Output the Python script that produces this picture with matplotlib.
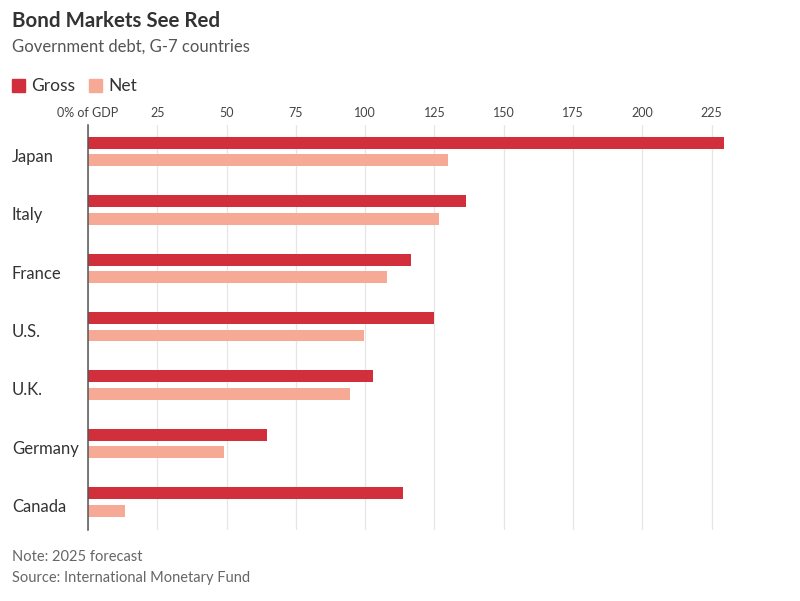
import matplotlib
matplotlib.use("Agg")
import matplotlib.pyplot as plt
from matplotlib.patches import Rectangle
from matplotlib import font_manager

countries = ["Japan", "Italy", "France", "U.S.", "U.K.", "Germany", "Canada"]
gross = [229.5, 136.5, 116.5, 125, 103, 64.5, 113.5]
net = [130, 126.5, 108, 99.5, 94.5, 49, 13.5]
ticks = [0, 25, 50, 75, 100, 125, 150, 175, 200, 225]
tick_labels = ["0% of GDP", "25", "50", "75", "100", "125", "150", "175", "200", "225"]

GROSS_C = "#d12f3c"
NET_C = "#f6a995"

names = {f.name for f in font_manager.fontManager.ttflist}
main_font = ["Lato", "DejaVu Sans"]
narrow = ["Liberation Sans Narrow"] if "Liberation Sans Narrow" in names else ["Lato"]
plt.rcParams['font.family'] = main_font

fig = plt.figure(figsize=(8, 6.01), dpi=100)
W, H = 800, 601
ax_left, ax_right = 88, 767
ax_top, ax_bottom = 125, 530
ax = fig.add_axes([ax_left / W, 1 - ax_bottom / H, (ax_right - ax_left) / W, (ax_bottom - ax_top) / H])

ypos = list(range(len(countries)))
h = 0.205
off = 0.15
ax.barh([y - off for y in ypos], gross, height=h, color=GROSS_C, zorder=3)
ax.barh([y + off for y in ypos], net, height=h, color=NET_C, zorder=3)

ax.set_xlim(0, 245)
ax.set_ylim(6.48, -0.454)
ax.set_xticks(ticks)
ax.set_xticklabels(tick_labels, fontfamily=narrow + ["DejaVu Sans"], fontsize=9, color="#444444")
ax.xaxis.tick_top()
ax.tick_params(axis="x", length=0, pad=4)
ax.set_yticks([])
ax.grid(axis="x", color="#e6e6e6", linewidth=0.9, zorder=0)
for s in ["top", "right", "bottom"]:
    ax.spines[s].set_visible(False)
ax.spines["left"].set_color("#555555")
ax.spines["left"].set_linewidth(1.1)
ax.spines["left"].set_zorder(4)

for y, c in zip(ypos, countries):
    ax.text(-76 / 2.771, y + 0.09, c, ha="left", va="center", fontsize=12, color="#333333")

fig.text(12 / W, 1 - 21 / H, "Bond Markets See Red", fontsize=14.8, fontweight="bold", color="#333333", va="center", ha="left")
fig.text(12 / W, 1 - 47 / H, "Government debt, G-7 countries", fontsize=12, color="#555555", va="center", ha="left")

# legend
for x0, col, lab, tx in [(12, GROSS_C, "Gross", 31), (89, NET_C, "Net", 108)]:
    fig.patches.append(Rectangle((x0 / W, 1 - 92 / H), 13 / W, 13 / H, transform=fig.transFigure, color=col))
    fig.text(tx / W, 1 - 86 / H, lab, fontsize=12.5, color="#333333", va="center", ha="left")

fig.text(12 / W, 1 - 557 / H, "Note: 2025 forecast", fontsize=10.5, color="#666666", va="center", ha="left")
fig.text(12 / W, 1 - 578 / H, "Source: International Monetary Fund", fontsize=10.5, color="#666666", va="center", ha="left")

fig.savefig("out.png", dpi=100, facecolor="white")
